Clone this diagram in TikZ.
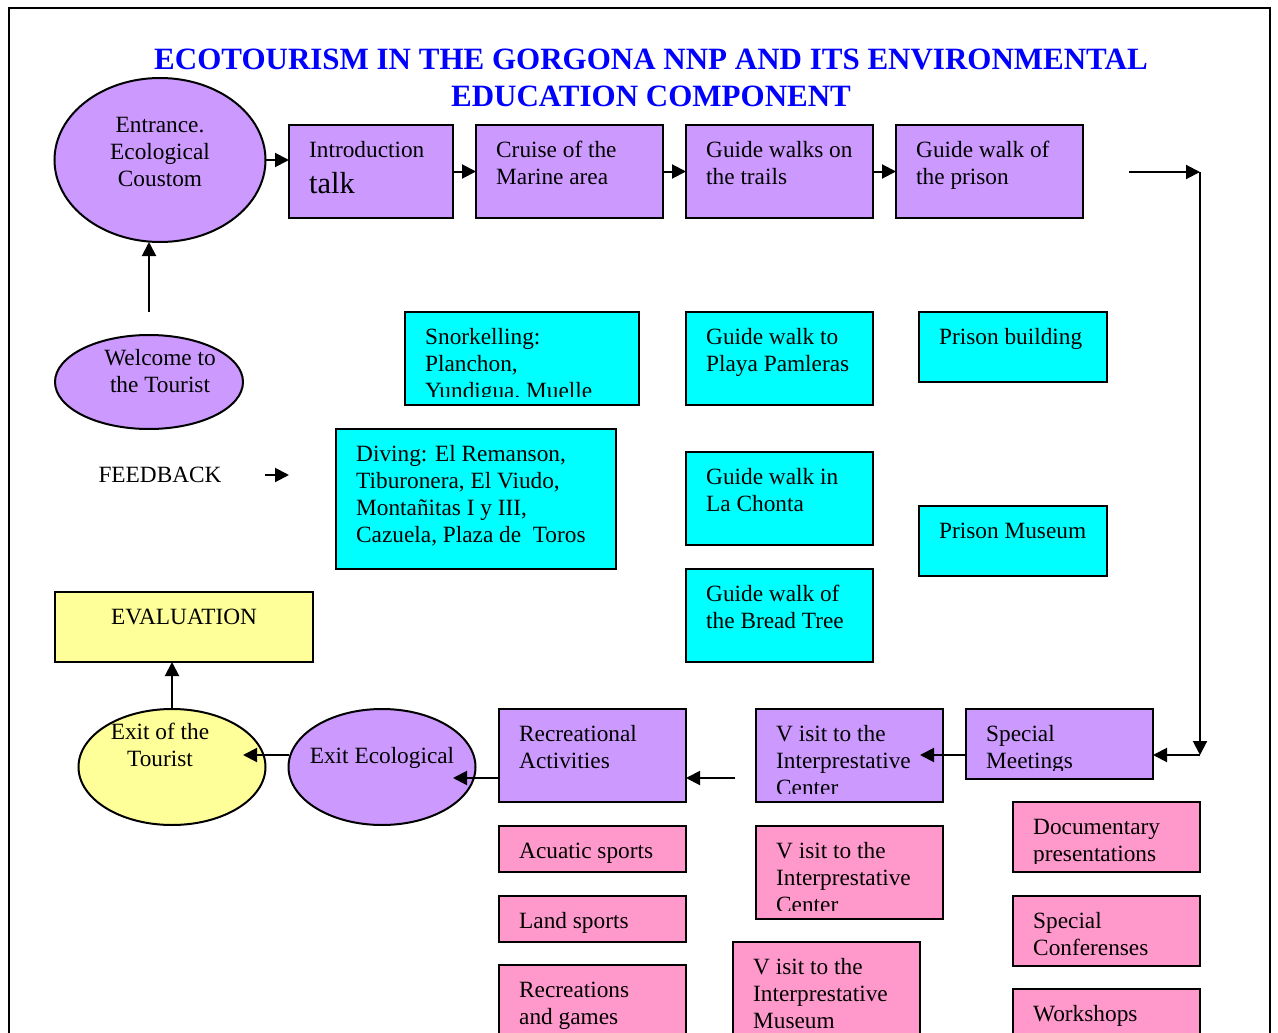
\documentclass[tikz,border=0pt]{standalone}
\usepackage{fontspec}
\setmainfont{Liberation Serif}
\usetikzlibrary{arrows.meta,shapes.geometric}
\definecolor{purp}{HTML}{CC99FF}
\definecolor{cyn}{HTML}{00FFFF}
\definecolor{yel}{HTML}{FFFF99}
\definecolor{pnk}{HTML}{FF99CC}
\definecolor{ttl}{HTML}{0000FF}
\tikzset{
  boxst/.style={draw=black, line width=2pt, inner sep=0pt, outer sep=0pt},
  ellst/.style={ellipse, draw=black, line width=2pt, inner sep=0pt, outer sep=0pt},
  txt/.style={anchor=north west, inner sep=0pt, align=left, font=\fontsize{23.3}{27}\selectfont},
  ctxt/.style={anchor=north, inner sep=0pt, align=center, font=\fontsize{23.3}{27}\selectfont},
  arr/.style={line width=2pt, -{Triangle[length=14pt,width=14pt]}},
}
% name, x1, y1, x2, y2, fill, text
\newcommand\mybox[7]{%
  \node[boxst, fill=#6, minimum width=#4-#2, minimum height=#5-#3] (#1) at ({(#2+#4)/2},{(#3+#5)/2}) {};
  \begin{scope}
    \clip (#1.north west) rectangle ([yshift=9pt]#1.south east);
    \node[txt] (#1-t) at ([xshift=20pt,yshift=-13pt]#1.north west) {\strut #7};
  \end{scope}}
\begin{document}
\begin{tikzpicture}[x=1pt,y=-1pt]
\useasboundingbox (0,0) rectangle (1278,1033);
\draw[line width=2pt] (9,1045) -- (9,8) -- (1270,8) -- (1270,1045);

% title
\node[anchor=north, inner sep=0pt, align=center, text=ttl,
      font=\bfseries\fontsize{31}{37}\selectfont] (title) at (651,43)
  {\strut ECOTOURISM IN THE GORGONA NNP AND ITS ENVIRONMENTAL\\EDUCATION COMPONENT};

% ellipses
\node[ellst, fill=purp, minimum width=211, minimum height=164] (entrance) at (160,160) {};
\node[ctxt] (entrance-t) at (160,113) {\strut Entrance.\\Ecological\\Coustom};
\node[ellst, fill=purp, minimum width=188, minimum height=94] (welcome) at (149,382) {};
\node[ctxt] (welcome-t) at (160,346) {\strut Welcome to\\the Tourist};
\node[ellst, fill=yel, minimum width=187, minimum height=116] (exittour) at (172,767) {};
\node[ctxt] (exittour-t) at (160,720) {\strut Exit of the\\Tourist};
\node[ellst, fill=purp, minimum width=187, minimum height=116] (exiteco) at (382,767) {};
\node[ctxt] (exiteco-t) at (382,744) {\strut Exit Ecological};

% top row
\mybox{intro}{289}{125}{453}{218}{purp}{Introduction\\[6pt]{\fontsize{30.5}{33}\selectfont talk}}
\mybox{cruise}{476}{125}{663}{218}{purp}{Cruise of the\\Marine area}
\mybox{trails}{686}{125}{873}{218}{purp}{Guide walks on\\the trails}
\mybox{prison}{896}{125}{1083}{218}{purp}{Guide walk of\\the prison}

% cyan boxes
\mybox{snork}{405}{312}{639}{405}{cyn}{Snorkelling:\\Planchon,\\Yundigua, Muelle}
\mybox{diving}{336}{429}{616}{569}{cyn}{Diving: El Remanson,\\Tiburonera, El Viudo,\\Montañitas I y III,\\Cazuela, Plaza de~ Toros}
\mybox{playa}{686}{312}{873}{405}{cyn}{Guide walk to\\Playa Pamleras}
\mybox{chonta}{686}{452}{873}{545}{cyn}{Guide walk in\\La Chonta}
\mybox{bread}{686}{569}{873}{662}{cyn}{Guide walk of\\the Bread Tree}
\mybox{pbuild}{919}{312}{1107}{382}{cyn}{Prison building}
\mybox{pmus}{919}{506}{1107}{576}{cyn}{Prison Museum}

% evaluation
\node[boxst, fill=yel, minimum width=258, minimum height=70] (eval) at (184,627) {};
\node[ctxt] (eval-t) at ([yshift=-13pt]eval.north) {\strut EVALUATION};

% feedback
\node[anchor=base, inner sep=0pt, font=\fontsize{23.3}{27}\selectfont] (fb) at (160,482) {FEEDBACK};

% bottom purple row
\mybox{recr}{499}{709}{686}{802}{purp}{Recreational\\Activities}
\mybox{visitc}{756}{709}{943}{802}{purp}{V isit to the\\Interprestative\\Center}
\mybox{special}{966}{709}{1153}{779}{purp}{Special\\Meetings}

% pink boxes
\mybox{acuatic}{499}{826}{686}{872}{pnk}{Acuatic sports}
\mybox{land}{499}{896}{686}{942}{pnk}{Land sports}
\mybox{games}{499}{965}{686}{1060}{pnk}{Recreations\\and games}
\mybox{visitc2}{756}{826}{943}{919}{pnk}{V isit to the\\Interprestative\\Center}
\mybox{visitm}{733}{942}{920}{1060}{pnk}{V isit to the\\Interprestative\\Museum}
\mybox{docu}{1013}{802}{1200}{872}{pnk}{Documentary\\presentations}
\mybox{conf}{1013}{896}{1200}{966}{pnk}{Special\\Conferenses}
\mybox{work}{1013}{989}{1200}{1060}{pnk}{Workshops}

% connectors
\coordinate (w1) at (149,312);
\draw[arr] (w1) -- (w1 |- entrance.south);
\draw[arr] (entrance.east) -- (entrance.east -| intro.west);
\draw[arr] (intro.east) -- (cruise.west);
\draw[arr] (cruise.east) -- (trails.west);
\draw[arr] (trails.east) -- (prison.west);
\coordinate (r1) at (1129,172);
\coordinate (r2) at (1200,172);
\coordinate (r3) at (1200,755);
\draw[arr] (r1) -- (r2);
\draw[arr] (r2) -- (r3);
\draw[arr] (r3) -- (r3 -| special.east);
\coordinate (s1) at (920,755);
\draw[arr] (special.west |- s1) -- (s1);
\coordinate (a1) at (735,778);
\draw[arr] (a1) -- (a1 -| recr.east);
\coordinate (a2) at (453,778);
\draw[arr] (recr.west |- a2) -- (a2);
\coordinate (a3) at (243,755);
\draw[arr] (exiteco.west |- a3) -- (a3);
\draw[arr] (exittour.north) -- (exittour.north |- eval.south);
\coordinate (f1) at (265,475);
\coordinate (f2) at (289,475);
\draw[arr] (f1) -- (f2);
\end{tikzpicture}
\end{document}
